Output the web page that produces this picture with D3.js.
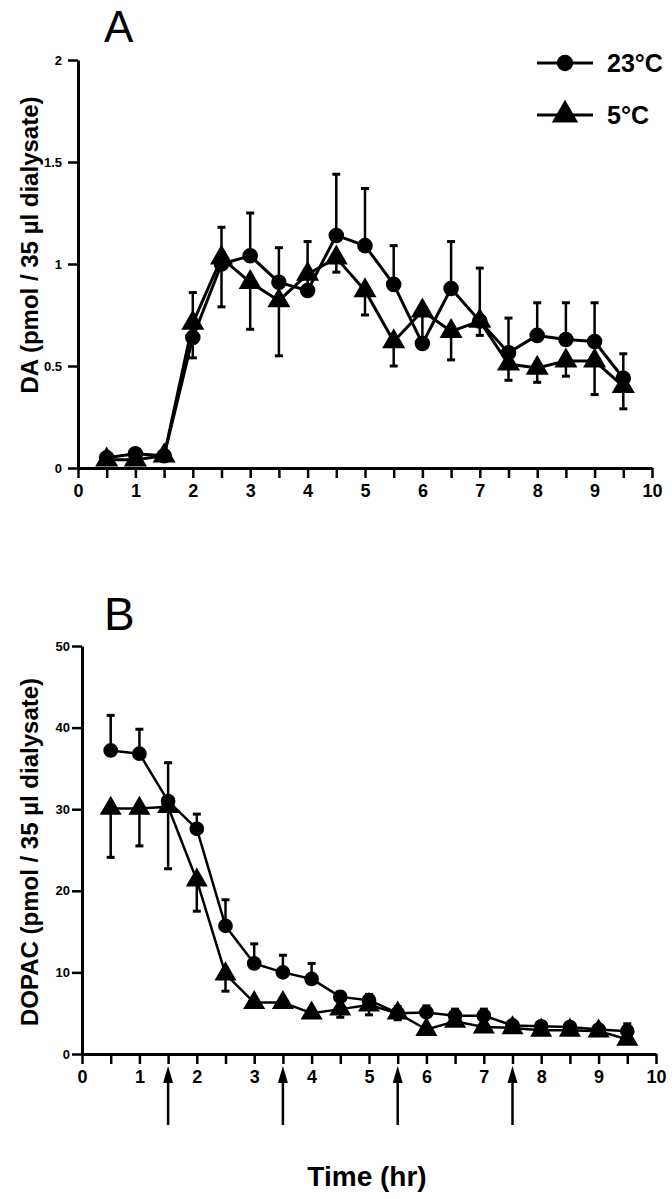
<!DOCTYPE html>
<html><head><meta charset="utf-8">
<script src="https://cdn.jsdelivr.net/npm/d3@7"></script>
<style>
html,body{margin:0;padding:0;background:#fff;}
svg{display:block;}
text{font-family:"Liberation Sans",Arial,Helvetica,sans-serif;font-weight:bold;fill:#000;}
</style></head>
<body>
<svg id="chart" width="672" height="1199"></svg>
<script>
// ---- data ----
const times = [0.5,1,1.5,2,2.5,3,3.5,4,4.5,5,5.5,6,6.5,7,7.5,8,8.5,9,9.5];
const xTicks = [0,1,2,3,4,5,6,7,8,9,10];
const da23 = [0.05,0.07,0.06,0.64,1.00,1.04,0.91,0.87,1.14,1.09,0.90,0.61,0.88,0.72,0.565,0.65,0.63,0.62,0.44];
const da23Sem = [0,0,0,0.22,0.18,0.21,0.17,0.24,0.30,0.28,0.19,0.14,0.23,0.26,0.17,0.16,0.18,0.19,0.12];
const da5 = [0.04,0.04,0.06,0.71,1.03,0.91,0.82,0.95,1.03,0.87,0.62,0.77,0.67,0.72,0.51,0.49,0.525,0.525,0.40];
const da5Sem = [0,0,0,0.17,0.24,0.23,0.27,0,0.07,0.12,0.12,0,0.14,0.07,0.08,0.07,0.075,0.165,0.11];
const daTicks = [0,0.5,1,1.5,2];
const dop23 = [37.2,36.8,31.0,27.6,15.7,11.1,10.0,9.2,7.0,6.6,5.0,5.1,4.7,4.7,3.5,3.4,3.3,3.0,2.8];
const dop23Sem = [4.3,3.0,4.7,1.8,3.2,2.4,2.1,1.9,0.6,0.7,0.8,0.8,0.8,0.8,0.4,0.3,0.4,0.3,0.9];
const dop5 = [30.1,30.1,30.3,21.3,9.8,6.3,6.3,5.0,5.5,6.0,5.0,3.0,4.0,3.3,3.2,2.9,2.9,2.8,1.8];
const dop5Sem = [6.0,4.6,7.6,3.8,2.1,0,0,0,1.0,1.2,0.8,0,0.5,0,0,0,0,0,0];
const dopTicks = [0,10,20,30,40,50];
const arrowTimes = [1.5,3.5,5.5,7.5];
const legendLabels = ["23°C","5°C"];

const svg = d3.select("#chart");

function panel(cfg){
  const g = svg.append("g");
  const x = d3.scaleLinear().domain([0,10]).range(cfg.xr);
  const y = d3.scaleLinear().domain(cfg.yd).range(cfg.yr);
  const xa = g.append("g").attr("transform",`translate(0,${cfg.yr[0]})`)
    .call(d3.axisBottom(x).tickValues(d3.range(0,10.01,0.5)).tickSize(10).tickSizeOuter(0)
      .tickFormat(d=> xTicks.includes(d)? String(d) : ""));
  xa.select(".domain").attr("stroke-width",3);
  xa.selectAll(".tick line").attr("stroke-width",2.5);
  xa.selectAll(".tick text").attr("font-size",18).attr("dy","0.95em").attr("y",12);
  const ya = g.append("g").attr("transform",`translate(${cfg.xr[0]},0)`)
    .call(d3.axisLeft(y).tickValues(cfg.ticks).tickSize(10).tickSizeOuter(0).tickPadding(cfg.tp)
      .tickFormat(d=>String(d)));
  ya.select(".domain").attr("stroke-width",3);
  ya.selectAll(".tick line").attr("stroke-width",2.5);
  ya.selectAll(".tick text").attr("font-size",13);
  g.selectAll(".tick text").style("font-family",'"Liberation Sans",Arial,sans-serif').style("font-weight","bold");

  const series = [
    {v:cfg.s23, e:cfg.e23, dir:-1, shape:"circle"},
    {v:cfg.s5, e:cfg.e5, dir:1, shape:"tri"}
  ];
  const line = d3.line().x((d,i)=>x(times[i])).y(d=>y(d));
  series.forEach(s=>{
    times.forEach((t,i)=>{
      if(s.e[i]<=0) return;
      const end = s.v[i] + (s.dir<0 ? s.e[i] : -s.e[i]);
      g.append("line").attr("x1",x(t)).attr("x2",x(t)).attr("y1",y(s.v[i])).attr("y2",y(end))
        .attr("stroke","#000").attr("stroke-width",2.5);
      g.append("line").attr("x1",x(t)-4).attr("x2",x(t)+4).attr("y1",y(end)).attr("y2",y(end))
        .attr("stroke","#000").attr("stroke-width",3);
    });
  });
  series.forEach(s=>{
    g.append("path").datum(s.v).attr("d",line).attr("fill","none").attr("stroke","#000")
      .attr("stroke-width",cfg.lw).attr("stroke-linejoin","round");
  });
  series.forEach(s=>{
    const sym = d3.symbol().type(s.shape==="circle"? d3.symbolCircle : d3.symbolTriangle)
      .size(s.shape==="circle"? cfg.cs : cfg.ts);
    g.selectAll(null).data(s.v).enter().append("path").attr("d",sym)
      .attr("transform",(d,i)=>`translate(${x(times[i])},${y(d)})`).attr("fill","#000");
  });
  return {x,y,g};
}

const A = panel({xr:[78,652], yd:[0,2], yr:[468,60], ticks:daTicks, tp:6,
  s23:da23,e23:da23Sem,s5:da5,e5:da5Sem, lw:3, cs:190, ts:230});
const B = panel({xr:[82,656], yd:[0,50], yr:[1054,646], ticks:dopTicks, tp:2,
  s23:dop23,e23:dop23Sem,s5:dop5,e5:dop5Sem, lw:2.5, cs:170, ts:210});

// panel letters
svg.append("text").attr("x",104).attr("y",42).attr("font-size",44).style("font-weight","normal").text("A");
svg.append("text").attr("x",104).attr("y",630).attr("font-size",46).style("font-weight","normal").text("B");

// legend
legendLabels.forEach((lab,i)=>{
  const ly = [63,115][i];
  svg.append("line").attr("x1",537).attr("x2",593).attr("y1",ly).attr("y2",ly).attr("stroke","#000").attr("stroke-width",3);
  svg.append("path").attr("d",d3.symbol().type(i===0?d3.symbolCircle:d3.symbolTriangle).size(i===0?210:300))
    .attr("transform",`translate(565,${ly})`);
  svg.append("text").attr("x",607).attr("y",ly+9).attr("font-size",25).text(lab);
});

// y axis titles
svg.append("text").attr("transform","translate(38,245) rotate(-90)").attr("text-anchor","middle")
  .attr("font-size",24).text("DA (pmol / 35 µl dialysate)");
svg.append("text").attr("transform","translate(38,852) rotate(-90)").attr("text-anchor","middle")
  .attr("font-size",24).text("DOPAC (pmol / 35 µl dialysate)");

// arrows
arrowTimes.forEach(t=>{
  const ax = B.x(t);
  svg.append("line").attr("x1",ax).attr("x2",ax).attr("y1",1080).attr("y2",1125).attr("stroke","#000").attr("stroke-width",2.5);
  svg.append("path").attr("d",`M${ax},${1066}L${ax-5},${1083}L${ax+5},${1083}Z`).attr("fill","#000");
});

// x title
svg.append("text").attr("x",367).attr("y",1186).attr("text-anchor","middle").attr("font-size",28).text("Time (hr)");
</script>
</body></html>
